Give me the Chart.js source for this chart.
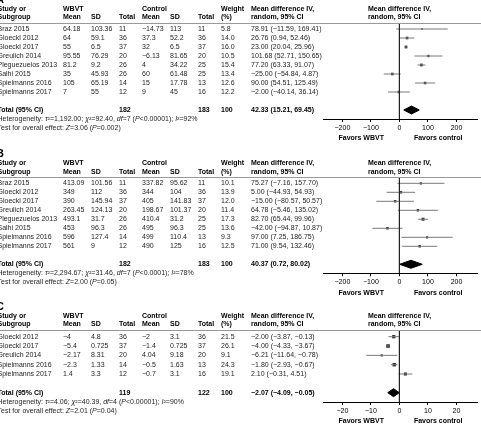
<!DOCTYPE html>
<html><head><meta charset="utf-8">
<script src="https://cdn.jsdelivr.net/npm/chart.js@4.4.1/dist/chart.umd.min.js"></script>
<style>
html,body{margin:0;padding:0;background:#fff;width:481px;height:428px;overflow:hidden}
canvas{position:absolute;left:0;top:0}
</style></head><body>
<canvas id="cA" width="481" height="428"></canvas>
<canvas id="cB" width="481" height="428"></canvas>
<canvas id="cC" width="481" height="428"></canvas>
<script>
// ---------- Panel A (data) ----------
const studiesA = ['Braz 2015','Gloeckl 2012','Gloeckl 2017','Greulich 2014','Pleguezuelos 2013','Salhi 2015','Spielmanns 2016','Spielmanns 2017'];
const wbvtMeanA = [64.18, 64, 55, 95.55, 81.2, 35, 105, 7];
const wbvtSdA   = [103.36, 59.1, 6.5, 76.29, 9.2, 45.93, 65.19, 55];
const wbvtNA    = [11, 36, 37, 20, 26, 26, 14, 12];
const ctrlMeanA = [-14.73, 37.3, 32, -6.13, 4, 60, 15, 9];
const ctrlSdA   = [113, 52.2, 6.5, 81.65, 34.22, 61.48, 17.78, 45];
const ctrlNA    = [11, 36, 37, 20, 25, 25, 13, 16];
const weightA   = [5.8, 14.0, 16.0, 10.5, 15.4, 13.4, 12.6, 12.2];
const mdA       = [78.91, 26.76, 23.00, 101.68, 77.20, -25.00, 90.00, -2.00];
const loA       = [-11.59, 0.94, 20.04, 52.71, 63.33, -54.84, 54.51, -40.14];
const hiA       = [169.41, 52.46, 25.96, 150.65, 91.07, 4.87, 125.49, 36.14];
const totalNA   = [182, 183];
const totalCiA  = [42.33, 15.21, 69.45];
const hetA      = [1192.00, 92.40, 7, '<0.00001', 92];
const testA     = [3.06, '=0.002'];
const ticksA    = [-200, -100, 0, 100, 200];

// ---------- Panel B (data) ----------
const studiesB = ['Braz 2015','Gloeckl 2012','Gloeckl 2017','Greulich 2014','Pleguezuelos 2013','Salhi 2015','Spielmanns 2016','Spielmanns 2017'];
const wbvtMeanB = [413.09, 349, 390, 263.45, 493.1, 453, 596, 561];
const wbvtSdB   = [101.56, 112, 145.94, 124.13, 31.7, 96.3, 127.4, 9];
const wbvtNB    = [11, 36, 37, 20, 26, 26, 14, 12];
const ctrlMeanB = [337.82, 344, 405, 198.67, 410.4, 495, 499, 490];
const ctrlSdB   = [95.62, 104, 141.83, 101.37, 31.2, 96.3, 110.4, 125];
const ctrlNB    = [11, 36, 37, 20, 25, 25, 13, 16];
const weightB   = [10.1, 13.9, 12.0, 11.4, 17.3, 13.6, 9.3, 12.5];
const mdB       = [75.27, 5.00, -15.00, 64.78, 82.70, -42.00, 97.00, 71.00];
const loB       = [-7.16, -44.93, -80.57, -5.46, 65.44, -94.87, 7.25, 9.54];
const hiB       = [157.70, 54.93, 50.57, 135.02, 99.96, 10.87, 186.75, 132.46];
const totalNB   = [182, 183];
const totalCiB  = [40.37, 0.72, 80.02];
const hetB      = [2294.67, 31.46, 7, '<0.0001', 78];
const testB     = [2.00, '=0.05'];
const ticksB    = [-200, -100, 0, 100, 200];

// ---------- Panel C (data) ----------
const studiesC = ['Gloeckl 2012','Gloeckl 2017','Greulich 2014','Spielmanns 2016','Spielmanns 2017'];
const wbvtMeanC = [-4, -5.4, -2.17, -2.3, 1.4];
const wbvtSdC   = [4.8, 0.725, 8.31, 1.33, 3.3];
const wbvtNC    = [36, 37, 20, 14, 12];
const ctrlMeanC = [-2, -1.4, 4.04, -0.5, -0.7];
const ctrlSdC   = [3.1, 0.725, 9.18, 1.63, 3.1];
const ctrlNC    = [36, 37, 20, 13, 16];
const weightC   = [21.5, 26.1, 9.1, 24.3, 19.1];
const mdC       = [-2.00, -4.00, -6.21, -1.80, 2.10];
const loC       = [-3.87, -4.33, -11.64, -2.93, -0.31];
const hiC       = [-0.13, -3.67, -0.78, -0.67, 4.51];
const totalNC   = [119, 122];
const totalCiC  = [-2.07, -4.09, -0.05];
const hetC      = [4.06, 40.39, 4, '<0.00001', 90];
const testC     = [2.01, '=0.04'];
const ticksC    = [-20, -10, 0, 10, 20];

// ---------- rendering ----------
const FAM = '"Liberation Sans", Arial, Helvetica, sans-serif';
const COLS = [-2.5, 63, 91, 119, 142, 170, 198, 221, 251];
const RIGHT_HDR = 368;
const AXIS_H = 20;
const MINUS = '\u2212';
const fmt = v => (v < 0 ? MINUS + String(Math.abs(v)) : String(v));
const fmt2 = v => (v < 0 ? MINUS + Math.abs(v).toFixed(2) : v.toFixed(2));
const ciText = (m, l, h) => `${fmt2(m)} (${fmt2(l)}, ${fmt2(h)})`;

function drawRuns(ctx, x, y, runs) {
  for (const [txt, st] of runs) {
    ctx.font = `${st || 'normal'} 7px ${FAM}`;
    ctx.fillText(txt, x, y);
    x += ctx.measureText(txt).width;
  }
}

function makePanel(id, letter, p, geo) {
  const n = p.studies.length;
  const t = n + 1;
  const yMin = -geo.off / geo.rowH;
  const yMax = n + 2;
  const bottom = geo.top + (yMax - yMin) * geo.rowH;
  const datasets = [];
  datasets.push({type: 'line', data: [{x: 0, y: yMin}, {x: 0, y: yMax}], borderColor: '#222', borderWidth: 1, pointRadius: 0});
  for (let i = 0; i < n; i++) {
    datasets.push({type: 'line', data: [{x: p.lo[i], y: i}, {x: p.hi[i], y: i}], borderColor: '#7a7a7a', borderWidth: 1, pointRadius: 0});
  }
  datasets.push({type: 'scatter', data: p.md.map((m, i) => ({x: m, y: i})), pointStyle: 'rect',
    pointRadius: c => 0.5 * Math.sqrt(p.weight[c.dataIndex]), backgroundColor: '#333', borderColor: '#333', borderWidth: 0});
  const [tm, tl, th] = p.total;
  const dh = 4 / geo.rowH;
  datasets.push({type: 'line', data: [{x: tl, y: t}, {x: tm, y: t - dh}, {x: th, y: t}, {x: tm, y: t + dh}, {x: tl, y: t}],
    fill: 'shape', backgroundColor: '#000', borderColor: '#000', borderWidth: 1, pointRadius: 0});

  const table = {
    id: 'table' + id,
    afterDraw(chart) {
      const ctx = chart.ctx, ys = chart.scales.y, xs = chart.scales.x, a = chart.chartArea;
      ctx.save();
      ctx.textAlign = 'left';
      // panel letter
      ctx.fillStyle = '#000';
      ctx.textBaseline = 'alphabetic';
      ctx.font = `bold 11px ${FAM}`;
      ctx.fillText(letter, -4, a.top - 20.5);
      ctx.textBaseline = 'middle';
      // headers
      ctx.font = `bold 7px ${FAM}`;
      const h1 = a.top - 14.3, h2 = a.top - 5.7;
      ctx.fillText('Study or', COLS[0], h1);
      ctx.fillText('WBVT', COLS[1], h1);
      ctx.fillText('Control', COLS[4], h1);
      ctx.fillText('Weight', COLS[7], h1);
      ctx.fillText('Mean difference IV,', COLS[8], h1);
      ctx.fillText('Mean difference IV,', RIGHT_HDR, h1);
      ['Subgroup', 'Mean', 'SD', 'Total', 'Mean', 'SD', 'Total', '(%)', 'random, 95% CI'].forEach((s, k) => ctx.fillText(s, COLS[k], h2));
      ctx.fillText('random, 95% CI', RIGHT_HDR, h2);
      // separator
      ctx.strokeStyle = '#999';
      ctx.lineWidth = 1;
      ctx.beginPath();
      ctx.moveTo(0, Math.round(a.top) + 0.5);
      ctx.lineTo(481, Math.round(a.top) + 0.5);
      ctx.stroke();
      // rows
      ctx.fillStyle = '#1e1e1e';
      ctx.font = `normal 7px ${FAM}`;
      for (let i = 0; i < n; i++) {
        const y = ys.getPixelForValue(i);
        const cells = [p.studies[i], fmt(p.m1[i]), fmt(p.s1[i]), fmt(p.n1[i]), fmt(p.m2[i]), fmt(p.s2[i]), fmt(p.n2[i]), p.weight[i].toFixed(1), ciText(p.md[i], p.lo[i], p.hi[i])];
        cells.forEach((s, k) => ctx.fillText(s, COLS[k], y));
      }
      // total
      ctx.fillStyle = '#000';
      ctx.font = `bold 7px ${FAM}`;
      const yt = ys.getPixelForValue(t);
      ctx.fillText('Total (95% CI)', COLS[0], yt);
      ctx.fillText(String(p.totN[0]), COLS[3], yt);
      ctx.fillText(String(p.totN[1]), COLS[6], yt);
      ctx.fillText('100', COLS[7], yt);
      ctx.fillText(ciText(tm, tl, th), COLS[8], yt);
      // heterogeneity & test
      ctx.fillStyle = '#1e1e1e';
      const tau = p.het[0].toLocaleString('en-US', {minimumFractionDigits: 2, maximumFractionDigits: 2});
      drawRuns(ctx, COLS[0], ys.getPixelForValue(t + 1), [
        ['Heterogeneity: '], ['\u03c4', 'italic'], ['\u00b2=' + tau + '; '], ['\u03c7', 'italic'],
        ['\u00b2=' + p.het[1].toFixed(2) + ', '], ['df', 'italic'], ['=' + p.het[2] + ' ('], ['P', 'italic'],
        [p.het[3] + '); '], ['I', 'italic'], ['\u00b2=' + p.het[4] + '%']]);
      drawRuns(ctx, COLS[0], ys.getPixelForValue(t + 2), [
        ['Test for overall effect: '], ['Z', 'italic'], ['=' + p.test[0].toFixed(2) + ' ('], ['P', 'italic'], [p.test[1] + ')']]);
      // favors labels
      ctx.fillStyle = '#000';
      ctx.font = `bold 7px ${FAM}`;
      ctx.textAlign = 'center';
      const z = xs.getPixelForValue(0);
      const fy = a.bottom + 19.5;
      ctx.fillText('Favors WBVT', (a.left + z) / 2, fy);
      ctx.fillText('Favors control', (z + a.right) / 2, fy);
      ctx.restore();
    }
  };

  return new Chart(document.getElementById(id), {
    type: 'scatter',
    data: {datasets},
    options: {
      responsive: false,
      devicePixelRatio: 1,
      animation: false,
      events: [],
      layout: {padding: {left: 323, right: 4, top: geo.top, bottom: 428 - bottom - AXIS_H}},
      plugins: {legend: {display: false}, tooltip: {enabled: false}},
      scales: {
        x: {
          type: 'linear', min: geo.xMin, max: geo.xMax,
          afterBuildTicks: s => { s.ticks = p.ticks.map(v => ({value: v})); },
          afterFit: s => { s.height = AXIS_H; },
          border: {display: true, color: '#000', width: 1},
          grid: {display: true, drawOnChartArea: false, drawTicks: true, tickLength: 3, color: '#000', tickColor: '#000'},
          ticks: {font: {family: FAM, size: 7}, color: '#000', padding: 2, maxRotation: 0, autoSkip: false,
                  callback: v => fmt(v)}
        },
        y: {type: 'linear', display: false, reverse: true, min: yMin, max: yMax}
      }
    },
    plugins: [table]
  });
}

makePanel('cA', 'A', {studies: studiesA, m1: wbvtMeanA, s1: wbvtSdA, n1: wbvtNA, m2: ctrlMeanA, s2: ctrlSdA, n2: ctrlNA,
  weight: weightA, md: mdA, lo: loA, hi: hiA, totN: totalNA, total: totalCiA, het: hetA, test: testA, ticks: ticksA},
  {top: 23, rowH: 9, off: 6, xMin: -268, xMax: 272});
makePanel('cB', 'B', {studies: studiesB, m1: wbvtMeanB, s1: wbvtSdB, n1: wbvtNB, m2: ctrlMeanB, s2: ctrlSdB, n2: ctrlNB,
  weight: weightB, md: mdB, lo: loB, hi: hiB, totN: totalNB, total: totalCiB, het: hetB, test: testB, ticks: ticksB},
  {top: 177.3, rowH: 9, off: 6, xMin: -268, xMax: 272});
makePanel('cC', 'C', {studies: studiesC, m1: wbvtMeanC, s1: wbvtSdC, n1: wbvtNC, m2: ctrlMeanC, s2: ctrlSdC, n2: ctrlNC,
  weight: weightC, md: mdC, lo: loC, hi: hiC, totN: totalNC, total: totalCiC, het: hetC, test: testC, ticks: ticksC},
  {top: 330, rowH: 9.33, off: 6.7, xMin: -26.8, xMax: 27.2});
</script>
</body></html>
